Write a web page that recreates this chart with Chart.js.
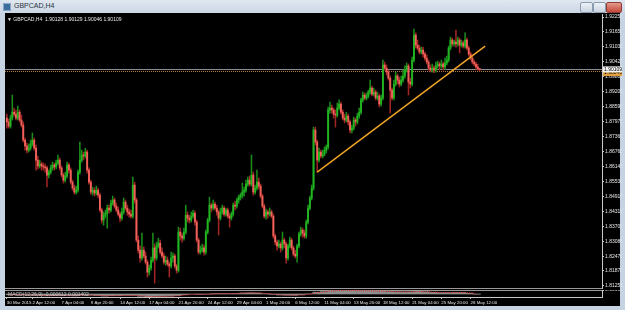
<!DOCTYPE html>
<html lang="en">
<head>
<meta charset="UTF-8" />
<title>GBPCAD,H4</title>
<script src="https://cdn.jsdelivr.net/npm/chart.js"></script>
<style>
  body {
    margin: 0;
    width: 625px;
    height: 310px;
    overflow: hidden;
    position: relative;
    background: #c6d3e2;
    font-family: "Liberation Sans", Arial, sans-serif;
  }
  .titlebar {
    position: absolute; left: 0; top: 0; width: 625px; height: 13px;
    background: linear-gradient(#dfe7f0, #cbd7e5);
  }
  .titlebar .icon {
    position: absolute; left: 3px; top: 3px; width: 6px; height: 6px;
    background: #3c6e9e; border: 1px solid #8aa6c4;
  }
  .titlebar .name {
    position: absolute; left: 14px; top: 2px; font-size: 7px; color: #2a3340;
  }
  .btn {
    position: absolute; top: 2px; height: 9px; border: 1px solid #8c9cb0;
    border-radius: 2px; background: linear-gradient(#eef2f7, #c9d4e1);
  }
  .btn.close { background: linear-gradient(#e49a8c, #c4473a); border-color: #8e3b33; }
  .frame {
    position: absolute; left: 5px; top: 13px; width: 615px; height: 293px; background: #000;
  }
  canvas { position: absolute; }
  .sep { position: absolute; left: 5px; width: 597px; height: 1px; background: #9a9a9a; }
  .label {
    position: absolute; white-space: pre; font-size: 5px; line-height: 6px;
  }
</style>
</head>
<body>
  <div class="titlebar">
    <div class="icon"></div>
    <div class="name">GBPCAD,H4</div>
    <div class="btn" style="left:580px;width:11px"></div>
    <div class="btn" style="left:593px;width:11px"></div>
    <div class="btn close" style="left:606px;width:14px"></div>
  </div>
  <div class="frame"></div>
  <canvas id="main" width="617" height="276" style="left:5px;top:13px"></canvas>
  <div class="sep" style="top:288px"></div>
  <div class="sep" style="top:290px"></div>
  <canvas id="macd" width="617" height="16" style="left:5px;top:290px"></canvas>
  <div class="label" style="left:7px;top:16px;color:#e8e8e8">▼ GBPCAD,H4  1.90128 1.90129 1.90046 1.90109</div>
  <div class="label" style="left:8px;top:291px;color:#c8c8c8">MACD(12,26,9) -0.000612 0.001402</div>

  <script>
    // H4 candles, one per bar, left to right
    const opens = [
      1.8812,1.8796,1.8779,1.8812,1.8836,1.8828,1.8812,1.8836,1.8804,1.8783,
      1.8722,1.8698,1.8681,1.8689,1.8706,1.8722,1.8689,1.8640,1.8616,1.8624,
      1.8616,1.8612,1.8608,1.8579,1.8591,1.8608,1.8620,1.8612,1.8628,1.8640,
      1.8608,1.8579,1.8558,1.8575,1.8620,1.8599,1.8550,1.8526,1.8509,1.8517,
      1.8591,1.8640,1.8661,1.8657,1.8673,1.8599,1.8550,1.8509,1.8517,1.8505,
      1.8517,1.8497,1.8436,1.8395,1.8415,1.8423,1.8444,1.8436,1.8464,1.8477,
      1.8452,1.8436,1.8419,1.8403,1.8428,1.8468,1.8444,1.8428,1.8419,1.8411,
      1.8538,1.8477,1.8313,1.8272,1.8240,1.8272,1.8248,1.8223,1.8182,1.8199,
      1.8231,1.8281,1.8240,1.8289,1.8301,1.8264,1.8248,1.8223,1.8231,1.8215,
      1.8207,1.8240,1.8248,1.8207,1.8190,1.8346,1.8330,1.8321,1.8346,1.8415,
      1.8403,1.8395,1.8411,1.8423,1.8387,1.8313,1.8264,1.8272,1.8281,1.8264,
      1.8346,1.8395,1.8456,1.8444,1.8460,1.8444,1.8428,1.8403,1.8428,1.8444,
      1.8419,1.8436,1.8411,1.8403,1.8419,1.8456,1.8452,1.8477,1.8489,1.8497,
      1.8509,1.8517,1.8542,1.8558,1.8542,1.8579,1.8509,1.8526,1.8550,1.8534,
      1.8493,1.8452,1.8411,1.8428,1.8419,1.8428,1.8411,1.8330,1.8305,1.8289,
      1.8297,1.8281,1.8313,1.8297,1.8240,1.8289,1.8313,1.8281,1.8256,1.8248,
      1.8289,1.8338,1.8354,1.8342,1.8330,1.8387,1.8444,1.8485,1.8526,1.8763,
      1.8714,1.8640,1.8673,1.8657,1.8665,1.8681,1.8694,1.8845,1.8853,1.8845,
      1.8828,1.8824,1.8853,1.8869,1.8836,1.8812,1.8804,1.8820,1.8796,1.8763,
      1.8771,1.8804,1.8796,1.8820,1.8836,1.8886,1.8906,1.8894,1.8902,1.8918,
      1.8935,1.8910,1.8918,1.8894,1.8902,1.8869,1.8894,1.9029,1.9016,1.9000,
      1.8975,1.8926,1.8894,1.8951,1.8984,1.8967,1.8951,1.8967,1.8984,1.9008,
      1.9025,1.8959,1.8951,1.9049,1.9151,1.9110,1.9098,1.9082,1.9090,1.9074,
      1.9057,1.9041,1.9016,1.9008,1.9016,1.9008,1.9025,1.9033,1.9025,1.9033,
      1.9021,1.9037,1.9049,1.9098,1.9131,1.9115,1.9123,1.9115,1.9131,1.9110,
      1.9119,1.9106,1.9131,1.9098,1.9074,1.9057,1.9041,1.9033,1.9021,1.90128
    ];
    const highs = [
      1.8828,1.8808,1.8824,1.8906,1.8853,1.8845,1.8861,1.8845,1.8824,1.8796,
      1.8730,1.8710,1.8706,1.8722,1.8751,1.8730,1.8702,1.8657,1.8640,1.8632,
      1.8628,1.8624,1.8616,1.8599,1.8620,1.8632,1.8628,1.8640,1.8661,1.8649,
      1.8616,1.8587,1.8591,1.8632,1.8628,1.8608,1.8558,1.8538,1.8534,1.8599,
      1.8714,1.8681,1.8673,1.8689,1.8681,1.8608,1.8558,1.8530,1.8526,1.8534,
      1.8526,1.8505,1.8444,1.8428,1.8436,1.8456,1.8456,1.8477,1.8493,1.8485,
      1.8464,1.8448,1.8428,1.8444,1.8485,1.8477,1.8456,1.8440,1.8436,1.8571,
      1.8550,1.8485,1.8330,1.8289,1.8342,1.8285,1.8264,1.8231,1.8211,1.8244,
      1.8342,1.8297,1.8305,1.8321,1.8313,1.8281,1.8260,1.8248,1.8244,1.8223,
      1.8264,1.8260,1.8256,1.8215,1.8366,1.8362,1.8342,1.8362,1.8456,1.8428,
      1.8415,1.8428,1.8436,1.8432,1.8395,1.8321,1.8289,1.8297,1.8293,1.8354,
      1.8403,1.8489,1.8464,1.8477,1.8468,1.8456,1.8436,1.8444,1.8456,1.8452,
      1.8444,1.8444,1.8423,1.8428,1.8464,1.8472,1.8485,1.8497,1.8505,1.8546,
      1.8530,1.8558,1.8571,1.8575,1.8661,1.8591,1.8538,1.8599,1.8567,1.8542,
      1.8501,1.8460,1.8440,1.8436,1.8444,1.8436,1.8419,1.8338,1.8313,1.8313,
      1.8305,1.8346,1.8321,1.8305,1.8297,1.8325,1.8321,1.8289,1.8272,1.8297,
      1.8346,1.8366,1.8362,1.8354,1.8395,1.8456,1.8493,1.8538,1.8775,1.8775,
      1.8722,1.8689,1.8681,1.8681,1.8694,1.8702,1.8857,1.8877,1.8865,1.8853,
      1.8845,1.8873,1.8886,1.8877,1.8845,1.8828,1.8836,1.8828,1.8804,1.8783,
      1.8816,1.8812,1.8832,1.8853,1.8894,1.8918,1.8914,1.8914,1.8926,1.8967,
      1.8943,1.8935,1.8926,1.8918,1.8910,1.8906,1.9049,1.9041,1.9029,1.9008,
      1.8984,1.8935,1.8967,1.9000,1.8992,1.8980,1.8984,1.9008,1.9025,1.9037,
      1.9033,1.8975,1.9061,1.9176,1.9160,1.9131,1.9110,1.9102,1.9102,1.9082,
      1.9070,1.9049,1.9029,1.9033,1.9025,1.9041,1.9045,1.9041,1.9049,1.9041,
      1.9057,1.9065,1.9106,1.9143,1.9139,1.9131,1.9172,1.9143,1.9139,1.9131,
      1.9127,1.9160,1.9139,1.9106,1.9082,1.9070,1.9049,1.9041,1.9033,1.90129
    ];
    const lows = [
      1.8771,1.8771,1.8771,1.8804,1.8820,1.8804,1.8804,1.8796,1.8775,1.8714,
      1.8681,1.8669,1.8673,1.8681,1.8698,1.8681,1.8599,1.8604,1.8608,1.8599,
      1.8599,1.8591,1.8530,1.8567,1.8583,1.8599,1.8599,1.8604,1.8620,1.8599,
      1.8571,1.8546,1.8550,1.8567,1.8587,1.8542,1.8517,1.8501,1.8501,1.8509,
      1.8583,1.8632,1.8640,1.8649,1.8587,1.8542,1.8501,1.8497,1.8493,1.8497,
      1.8485,1.8428,1.8383,1.8374,1.8403,1.8362,1.8423,1.8428,1.8456,1.8444,
      1.8428,1.8411,1.8387,1.8395,1.8419,1.8436,1.8415,1.8407,1.8403,1.8403,
      1.8464,1.8305,1.8260,1.8223,1.8231,1.8240,1.8215,1.8162,1.8170,1.8190,
      1.8223,1.8137,1.8231,1.8281,1.8256,1.8240,1.8215,1.8211,1.8207,1.8162,
      1.8199,1.8223,1.8199,1.8178,1.8182,1.8313,1.8305,1.8313,1.8338,1.8387,
      1.8383,1.8387,1.8403,1.8374,1.8305,1.8256,1.8256,1.8264,1.8252,1.8256,
      1.8338,1.8387,1.8428,1.8436,1.8436,1.8415,1.8334,1.8395,1.8419,1.8411,
      1.8411,1.8403,1.8366,1.8395,1.8411,1.8436,1.8444,1.8464,1.8477,1.8485,
      1.8493,1.8509,1.8534,1.8534,1.8534,1.8497,1.8501,1.8517,1.8522,1.8485,
      1.8444,1.8403,1.8399,1.8403,1.8411,1.8403,1.8321,1.8293,1.8272,1.8281,
      1.8264,1.8272,1.8281,1.8219,1.8231,1.8281,1.8272,1.8248,1.8240,1.8223,
      1.8281,1.8330,1.8325,1.8321,1.8321,1.8379,1.8436,1.8477,1.8517,1.8702,
      1.8591,1.8632,1.8649,1.8649,1.8657,1.8669,1.8685,1.8832,1.8832,1.8812,
      1.8775,1.8816,1.8845,1.8828,1.8804,1.8792,1.8796,1.8783,1.8751,1.8751,
      1.8763,1.8779,1.8788,1.8812,1.8828,1.8877,1.8886,1.8886,1.8894,1.8910,
      1.8902,1.8902,1.8886,1.8886,1.8857,1.8861,1.8886,1.9008,1.8988,1.8967,
      1.8832,1.8886,1.8886,1.8943,1.8951,1.8939,1.8943,1.8959,1.8975,1.9000,
      1.8906,1.8935,1.8943,1.9041,1.9098,1.9090,1.9074,1.9074,1.9061,1.9049,
      1.9033,1.9008,1.9000,1.9000,1.8996,1.9000,1.9016,1.9008,1.9016,1.9008,
      1.9012,1.9029,1.9041,1.9090,1.9106,1.9106,1.9102,1.9106,1.9078,1.9102,
      1.9098,1.9098,1.9090,1.9065,1.9049,1.9033,1.9025,1.9012,1.9008,1.90046
    ];
    const closes = [
      1.8796,1.8779,1.8812,1.8836,1.8828,1.8812,1.8836,1.8804,1.8783,1.8722,
      1.8698,1.8681,1.8689,1.8706,1.8722,1.8689,1.8640,1.8616,1.8624,1.8616,
      1.8612,1.8608,1.8579,1.8591,1.8608,1.8620,1.8612,1.8628,1.8640,1.8608,
      1.8579,1.8558,1.8575,1.8620,1.8599,1.8550,1.8526,1.8509,1.8517,1.8591,
      1.8640,1.8661,1.8657,1.8673,1.8599,1.8550,1.8509,1.8517,1.8505,1.8517,
      1.8497,1.8436,1.8395,1.8415,1.8423,1.8444,1.8436,1.8464,1.8477,1.8452,
      1.8436,1.8419,1.8403,1.8428,1.8468,1.8444,1.8428,1.8419,1.8411,1.8538,
      1.8477,1.8313,1.8272,1.8240,1.8272,1.8248,1.8223,1.8182,1.8199,1.8231,
      1.8281,1.8240,1.8289,1.8301,1.8264,1.8248,1.8223,1.8231,1.8215,1.8207,
      1.8240,1.8248,1.8207,1.8190,1.8346,1.8330,1.8321,1.8346,1.8415,1.8403,
      1.8395,1.8411,1.8423,1.8387,1.8313,1.8264,1.8272,1.8281,1.8264,1.8346,
      1.8395,1.8456,1.8444,1.8460,1.8444,1.8428,1.8403,1.8428,1.8444,1.8419,
      1.8436,1.8411,1.8403,1.8419,1.8456,1.8452,1.8477,1.8489,1.8497,1.8509,
      1.8517,1.8542,1.8558,1.8542,1.8579,1.8509,1.8526,1.8550,1.8534,1.8493,
      1.8452,1.8411,1.8428,1.8419,1.8428,1.8411,1.8330,1.8305,1.8289,1.8297,
      1.8281,1.8313,1.8297,1.8240,1.8289,1.8313,1.8281,1.8256,1.8248,1.8289,
      1.8338,1.8354,1.8342,1.8330,1.8387,1.8444,1.8485,1.8526,1.8763,1.8714,
      1.8640,1.8673,1.8657,1.8665,1.8681,1.8694,1.8845,1.8853,1.8845,1.8828,
      1.8824,1.8853,1.8869,1.8836,1.8812,1.8804,1.8820,1.8796,1.8763,1.8771,
      1.8804,1.8796,1.8820,1.8836,1.8886,1.8906,1.8894,1.8902,1.8918,1.8935,
      1.8910,1.8918,1.8894,1.8902,1.8869,1.8894,1.9029,1.9016,1.9000,1.8975,
      1.8926,1.8894,1.8951,1.8984,1.8967,1.8951,1.8967,1.8984,1.9008,1.9025,
      1.8959,1.8951,1.9049,1.9151,1.9110,1.9098,1.9082,1.9090,1.9074,1.9057,
      1.9041,1.9016,1.9008,1.9016,1.9008,1.9025,1.9033,1.9025,1.9033,1.9021,
      1.9037,1.9049,1.9098,1.9131,1.9115,1.9123,1.9115,1.9131,1.9110,1.9119,
      1.9106,1.9131,1.9098,1.9074,1.9057,1.9041,1.9033,1.9021,1.9013,1.90109
    ];

    // price axis labels and time axis labels (bar index of each time label)
    const priceTicks = [1.92250, 1.91650, 1.91035, 1.90420, 1.89805, 1.89205, 1.88590,
      1.87975, 1.87360, 1.86760, 1.86145, 1.85530, 1.84915, 1.84315, 1.83700, 1.83085,
      1.82470, 1.81870, 1.81255];
    const timeLabels = ["30 Mar 2015", "2 Apr 12:00", "7 Apr 04:00", "9 Apr 20:00",
      "14 Apr 12:00", "17 Apr 04:00", "21 Apr 20:00", "24 Apr 12:00", "29 Apr 04:00",
      "1 May 20:00", "6 May 12:00", "11 May 04:00", "13 May 20:00", "18 May 12:00",
      "21 May 04:00", "25 May 20:00", "28 May 12:00"];
    const timeTickBars = [0, 14, 30, 46, 62, 78, 94, 110, 126, 142, 158, 174, 190, 206, 222, 238, 254];

    // trend line anchors (bar, price), bid and horizontal line
    const trendBars = [170, 262];
    const trendPrices = [1.8591, 1.9106];
    const bidPrice = 1.90109;
    const linePrice = 1.9004;

    // MACD(12,26,9), one value per 4 bars
    const macdHist = [
      -0.0020,-0.0018,-0.0025,-0.0030,-0.0040,-0.0045,-0.0042,-0.0040,-0.0040,-0.0045,
      -0.0025,-0.0030,-0.0040,-0.0050,-0.0042,-0.0040,-0.0035,-0.0035,-0.0055,-0.0070,
      -0.0060,-0.0055,-0.0052,-0.0040,-0.0015,-0.0002,-0.0010,-0.0005,0.0010,0.0012,
      0.0010,0.0015,0.0025,0.0030,0.0025,0.0008,-0.0010,-0.0025,-0.0030,-0.0032,
      -0.0020,0.0005,0.0045,0.0060,0.0085,0.0095,0.0090,0.0080,0.0082,0.0080,
      0.0072,0.0068,0.0060,0.0055,0.0052,0.0055,0.0065,0.0055,0.0042,0.0035,
      0.0035,0.0040,0.0038,0.0020,-0.0006
    ];
    const macdSignal = [
      -0.0022,-0.0020,-0.0021,-0.0025,-0.0032,-0.0039,-0.0042,-0.0041,-0.0040,-0.0042,
      -0.0035,-0.0030,-0.0035,-0.0044,-0.0045,-0.0041,-0.0038,-0.0035,-0.0045,-0.0060,
      -0.0063,-0.0058,-0.0054,-0.0047,-0.0028,-0.0010,-0.0008,-0.0007,0.0002,0.0010,
      0.0011,0.0013,0.0020,0.0027,0.0027,0.0016,0.0000,-0.0017,-0.0027,-0.0031,
      -0.0025,-0.0008,0.0025,0.0052,0.0072,0.0088,0.0091,0.0085,0.0082,0.0080,
      0.0075,0.0070,0.0064,0.0058,0.0054,0.0054,0.0060,0.0058,0.0048,0.0039,
      0.0036,0.0038,0.0038,0.0028,0.0014
    ];
    const macdAxisTicks = [0.0099];

    const X_MIN = -1, X_MAX = 326;
    const FONT = { family: "Liberation Sans, Arial, sans-serif", size: 5 };
    const TIME_FONT = { family: "Liberation Sans, Arial, sans-serif", size: 4.4 };

    const bull = closes.map((c, i) => c >= opens[i]);
    const wicks = lows.map((l, i) => ({ x: i, y: [l, highs[i]] }));
    const bodies = opens.map((o, i) => ({ x: i, y: [o, closes[i]] }));
    const trend = trendBars.map((b, i) => ({ x: b, y: trendPrices[i] }));

    const levelLines = {
      id: 'levelLines',
      beforeDatasetsDraw(chart) {
        const { ctx, chartArea: a, scales: { y } } = chart;
        ctx.save();
        ctx.lineWidth = 1;
        let py = Math.round(y.getPixelForValue(bidPrice)) + 0.5;
        ctx.strokeStyle = '#8c8c8c';
        ctx.beginPath(); ctx.moveTo(a.left, py); ctx.lineTo(a.right, py); ctx.stroke();
        py = Math.round(y.getPixelForValue(linePrice)) + 0.5;
        ctx.strokeStyle = '#b87a3c';
        ctx.setLineDash([1, 1]);
        ctx.beginPath(); ctx.moveTo(a.left, py); ctx.lineTo(a.right, py); ctx.stroke();
        ctx.restore();
      },
      afterDraw(chart) {
        const { ctx, chartArea: a, scales: { y } } = chart;
        ctx.save();
        ctx.font = '5px Liberation Sans, Arial, sans-serif';
        ctx.textBaseline = 'middle';
        let py = y.getPixelForValue(linePrice) + 2;
        ctx.fillStyle = '#e0a040';
        ctx.fillRect(a.right + 1, py - 3, 19, 6);
        ctx.fillStyle = '#000';
        ctx.fillText(linePrice.toFixed(5), a.right + 2, py);
        py = y.getPixelForValue(bidPrice);
        ctx.fillStyle = '#f4f4f4';
        ctx.fillRect(a.right + 1, py - 3, 19, 6);
        ctx.fillStyle = '#000';
        ctx.fillText(bidPrice.toFixed(5), a.right + 2, py);
        ctx.restore();
      }
    };

    new Chart(document.getElementById('main'), {
      type: 'bar',
      data: {
        datasets: [
          {
            data: wicks, order: 2, grouped: false, barThickness: 0.9,
            backgroundColor: bull.map(b => b ? '#1a8c1a' : '#a02424')
          },
          {
            data: bodies, order: 1, grouped: false, barThickness: 1.25, minBarLength: 1,
            backgroundColor: bull.map(b => b ? '#22b522' : '#f0625a')
          },
          {
            type: 'line', data: trend, order: 0, borderColor: '#f5a623',
            borderWidth: 1.4, pointRadius: 0
          }
        ]
      },
      options: {
        responsive: false,
        animation: false,
        devicePixelRatio: 1,
        layout: { padding: { top: 1, bottom: 1 } },
        plugins: { legend: { display: false }, tooltip: { enabled: false } },
        scales: {
          x: { type: 'linear', min: X_MIN, max: X_MAX, offset: false, display: false },
          y: {
            position: 'right', min: 1.81173, max: 1.92373,
            afterBuildTicks: s => { s.ticks = priceTicks.map(v => ({ value: v })); },
            afterFit: s => { s.width = 20; s.paddingTop = 0; s.paddingBottom = 0; },
            ticks: { color: '#e6e6e6', font: FONT, padding: 1, callback: v => v.toFixed(5) },
            grid: { drawOnChartArea: false, tickLength: 2, color: '#c8c8c8' },
            border: { color: '#c8c8c8' }
          }
        }
      },
      plugins: [levelLines]
    });

    new Chart(document.getElementById('macd'), {
      type: 'bar',
      data: {
        datasets: [
          {
            data: macdHist.map((v, k) => ({ x: k * 4 + 1.5, y: v })), order: 1,
            grouped: false, barThickness: 7, backgroundColor: '#8e8e8e'
          },
          {
            type: 'line', data: macdSignal.map((v, k) => ({ x: k * 4 + 1.5, y: v })),
            order: 0, borderColor: '#e02828', borderWidth: 1, borderDash: [1, 1], pointRadius: 0
          }
        ]
      },
      options: {
        responsive: false,
        animation: false,
        devicePixelRatio: 1,
        plugins: { legend: { display: false }, tooltip: { enabled: false } },
        scales: {
          x: {
            type: 'linear', min: X_MIN, max: X_MAX, offset: false,
            afterBuildTicks: s => { s.ticks = timeTickBars.map(v => ({ value: v })); },
            afterFit: s => { s.height = 9; s.paddingLeft = 0; s.paddingRight = 0; },
            ticks: {
              align: 'start', autoSkip: false, maxRotation: 0, color: '#e6e6e6',
              font: TIME_FONT, padding: 1, callback: (v, i) => timeLabels[i]
            },
            grid: { drawOnChartArea: false, tickLength: 2, color: '#c8c8c8', offset: false },
            border: { color: '#c8c8c8' }
          },
          y: {
            position: 'right', min: -0.0075, max: 0.0100,
            afterBuildTicks: s => { s.ticks = macdAxisTicks.map(v => ({ value: v })); },
            afterFit: s => { s.width = 20; s.paddingTop = 0; s.paddingBottom = 0; },
            ticks: { color: '#e6e6e6', font: FONT, padding: 1, callback: v => v.toFixed(6) },
            grid: { drawOnChartArea: false, tickLength: 2, color: '#c8c8c8' },
            border: { color: '#c8c8c8' }
          }
        }
      }
    });
  </script>
</body>
</html>
